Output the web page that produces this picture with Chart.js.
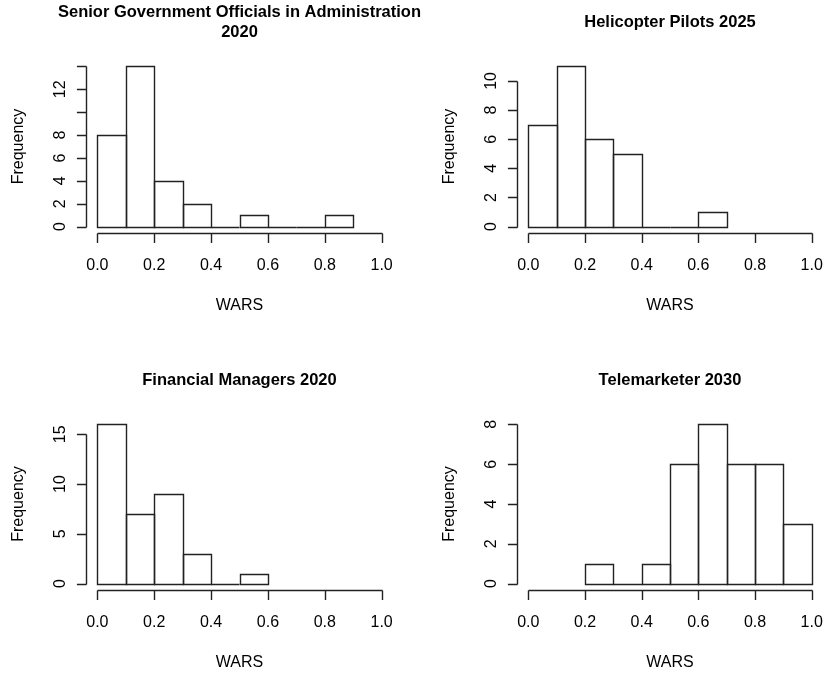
<!DOCTYPE html>
<html>
<head>
<meta charset="utf-8">
<title>WARS histograms</title>
<script src="https://cdn.jsdelivr.net/npm/chart.js@4.4.0/dist/chart.umd.min.js"></script>
<style>
  body { margin: 0; background: #fff; }
  #wrap { position: relative; width: 825px; height: 675px; overflow: hidden; }
  .panel { position: absolute; }
</style>
</head>
<body>
<div id="wrap">
  <div class="panel" style="left:412px;top:0px;width:413px;height:345px"><canvas id="heli"></canvas></div>
  <div class="panel" style="left:0px;top:0px;width:440px;height:345px"><canvas id="senior"></canvas></div>
  <div class="panel" style="left:0px;top:345px;width:412px;height:330px"><canvas id="fin"></canvas></div>
  <div class="panel" style="left:412px;top:345px;width:413px;height:330px"><canvas id="tele"></canvas></div>
</div>
<script>
// shared x axis ticks (WARS)
const xTicks = [0, 0.2, 0.4, 0.6, 0.8, 1.0];
const xTickLabels = ['0.0', '0.2', '0.4', '0.6', '0.8', '1.0'];

// Senior Government Officials in Administration 2020
const seniorBreaks = [0, 0.1, 0.2, 0.3, 0.4, 0.5, 0.6, 0.7, 0.8, 0.9];
const seniorCounts = [8, 14, 4, 2, 0, 1, 0, 0, 1];
const seniorYTicks = [0, 2, 4, 6, 8, 10, 12, 14];
const seniorYLabels = ['0', '2', '4', '6', '8', '', '12', ''];

// Helicopter Pilots 2025
const heliBreaks = [0, 0.1, 0.2, 0.3, 0.4, 0.5, 0.6, 0.7];
const heliCounts = [7, 11, 6, 5, 0, 0, 1];
const heliYTicks = [0, 2, 4, 6, 8, 10];
const heliYLabels = ['0', '2', '4', '6', '8', '10'];

// Financial Managers 2020
const finBreaks = [0, 0.1, 0.2, 0.3, 0.4, 0.5, 0.6];
const finCounts = [16, 7, 9, 3, 0, 1];
const finYTicks = [0, 5, 10, 15];
const finYLabels = ['0', '5', '10', '15'];

// Telemarketer 2030
const teleBreaks = [0.2, 0.3, 0.4, 0.5, 0.6, 0.7, 0.8, 0.9, 1.0];
const teleCounts = [1, 0, 1, 6, 8, 6, 6, 3];
const teleYTicks = [0, 2, 4, 6, 8];
const teleYLabels = ['0', '2', '4', '6', '8'];

const FONT = '"Liberation Sans", Arial, sans-serif';
const INK = '#222';

// crisp 1px lines
function px(v) { return Math.round(v) + 0.5; }

// R style axes, outlines and titles, drawn from the chart scales
const rStyle = {
    id: 'rStyle',
    afterDatasetsDraw(chart) {
        const cfg = chart.options.plugins.rStyle;
        const ctx = chart.ctx;
        const area = chart.chartArea;
        const xs = chart.scales.x;
        const ys = chart.scales.y;
        ctx.save();
        ctx.strokeStyle = INK;
        ctx.lineWidth = 1.4;

        // bar outlines (zero bins give a line on the base)
        chart.getDatasetMeta(0).data.forEach(bar => {
            const p = bar.getProps(['x', 'y', 'base', 'width'], true);
            const l = px(p.x - p.width / 2), r = px(p.x + p.width / 2);
            const t = px(p.y), b = px(p.base);
            ctx.beginPath();
            ctx.moveTo(l, b); ctx.lineTo(l, t); ctx.lineTo(r, t); ctx.lineTo(r, b); ctx.closePath();
            ctx.stroke();
        });

        const tick = 9.6;
        // x axis
        const ax = px(area.bottom);
        ctx.beginPath();
        ctx.moveTo(px(xs.getPixelForValue(xTicks[0])), ax);
        ctx.lineTo(px(xs.getPixelForValue(xTicks[xTicks.length - 1])), ax);
        xTicks.forEach(v => {
            const x = px(xs.getPixelForValue(v));
            ctx.moveTo(x, ax); ctx.lineTo(x, ax + tick);
        });
        ctx.stroke();

        // y axis
        const ay = px(area.left);
        ctx.beginPath();
        ctx.moveTo(ay, px(ys.getPixelForValue(cfg.yTicks[0])));
        ctx.lineTo(ay, px(ys.getPixelForValue(cfg.yTicks[cfg.yTicks.length - 1])));
        cfg.yTicks.forEach(v => {
            const y = px(ys.getPixelForValue(v));
            ctx.moveTo(ay, y); ctx.lineTo(ay - tick, y);
        });
        ctx.stroke();

        ctx.fillStyle = '#000';
        ctx.font = '16px ' + FONT;
        ctx.textAlign = 'center';
        ctx.textBaseline = 'alphabetic';
        xTicks.forEach((v, i) => {
            ctx.fillText(xTickLabels[i], xs.getPixelForValue(v), area.bottom + 37);
        });
        const midX = (area.left + area.right) / 2;
        const midY = (area.top + area.bottom) / 2;
        ctx.fillText('WARS', midX, area.bottom + 76.5);

        cfg.yTicks.forEach((v, i) => {
            if (!cfg.yLabels[i]) return;
            ctx.save();
            ctx.translate(area.left - 21, ys.getPixelForValue(v));
            ctx.rotate(-Math.PI / 2);
            ctx.fillText(cfg.yLabels[i], 0, 0);
            ctx.restore();
        });
        ctx.save();
        ctx.translate(area.left - 63.5, midY);
        ctx.rotate(-Math.PI / 2);
        ctx.fillText('Frequency', 0, 0);
        ctx.restore();

        // main title
        ctx.font = 'bold 16.5px ' + FONT;
        const n = cfg.title.length;
        cfg.title.forEach((line, i) => {
            ctx.fillText(line, midX, area.top - 33.5 + (i - (n - 1) / 2) * 20);
        });
        ctx.restore();
    }
};

function makeHist(id, title, breaks, counts, yTicks, yLabels, padding) {
    const centers = breaks.slice(0, -1).map((b, i) => (b + breaks[i + 1]) / 2);
    const ymax = Math.max(...counts);
    return new Chart(document.getElementById(id), {
        type: 'bar',
        data: {
            datasets: [{
                data: centers.map((x, i) => ({ x: x, y: counts[i] })),
                backgroundColor: '#fff',
                borderWidth: 0,
                barPercentage: 1,
                categoryPercentage: 1
            }]
        },
        options: {
            responsive: true,
            maintainAspectRatio: false,
            animation: false,
            layout: { padding: padding },
            plugins: {
                legend: { display: false },
                tooltip: { enabled: false },
                rStyle: { title: title, yTicks: yTicks, yLabels: yLabels }
            },
            scales: {
                x: {
                    type: 'linear', display: false, offset: false, min: -0.04, max: 1.04,
                    afterBuildTicks: s => { s.ticks = xTicks.map(v => ({ value: v })); }
                },
                y: { display: false, min: -0.04 * ymax, max: 1.04 * ymax }
            }
        },
        plugins: [rStyle]
    });
}

makeHist('senior', ['Senior Government Officials in Administration', '2020'],
    seniorBreaks, seniorCounts, seniorYTicks, seniorYLabels,
    { left: 86, right: 47, top: 60, bottom: 112 });
makeHist('heli', ['Helicopter Pilots 2025'],
    heliBreaks, heliCounts, heliYTicks, heliYLabels,
    { left: 105, right: 2, top: 60, bottom: 112 });
makeHist('fin', ['Financial Managers 2020'],
    finBreaks, finCounts, finYTicks, finYLabels,
    { left: 86, right: 19, top: 73, bottom: 85 });
makeHist('tele', ['Telemarketer 2030'],
    teleBreaks, teleCounts, teleYTicks, teleYLabels,
    { left: 105, right: 2, top: 73, bottom: 85 });
</script>
</body>
</html>
